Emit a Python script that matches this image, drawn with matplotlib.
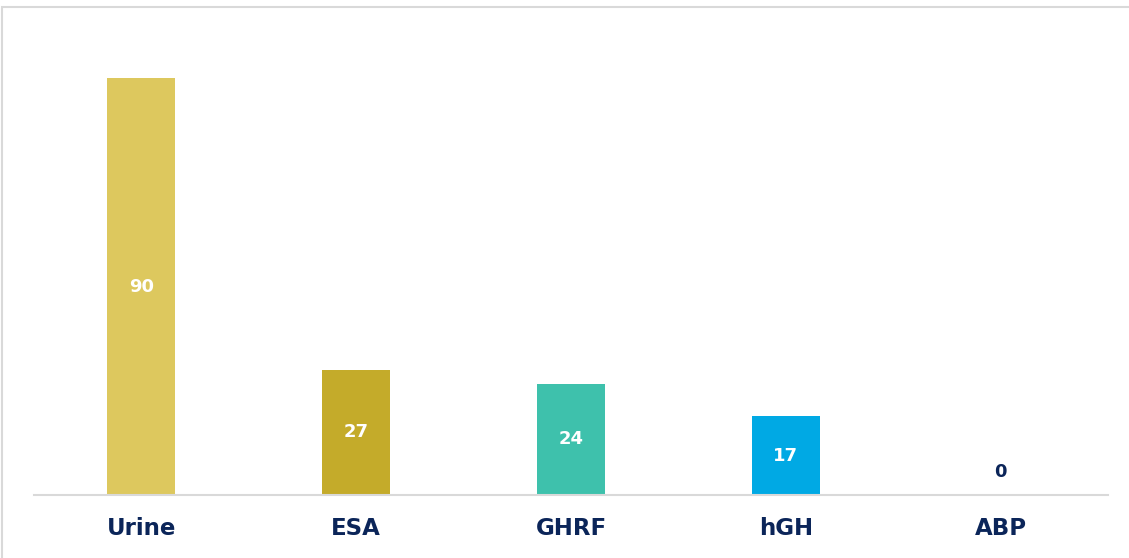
import matplotlib
matplotlib.use('Agg')
import matplotlib.pyplot as plt
from matplotlib.patches import Rectangle

# data
categories = ['Urine', 'ESA', 'GHRF', 'hGH', 'ABP']
values = [90, 27, 24, 17, 0]
bar_colors = ['#DDC85E', '#C4AB2A', '#3EC1AC', '#00A9E4', '#0B2559']
label_colors = ['white', 'white', 'white', 'white', '#0B2559']

NAVY = '#0B2559'
W, H = 1129, 558

fig = plt.figure(figsize=(W / 100, H / 100), dpi=100)
fig.patch.set_facecolor('white')

# light grey frame round the chart
fig.patches.append(Rectangle((2 / W, -0.05), 1.2, (H - 7) / H + 0.05,
                             transform=fig.transFigure, fill=False,
                             edgecolor='#D9D9D9', linewidth=1.5))

# axes: baseline at y=495 px, spans x 34..1108
ax = fig.add_axes([34 / W, (H - 495) / H, (1108 - 34) / W, 463 / H])
x = range(len(categories))
ax.bar(x, values, width=0.316, color=bar_colors)
ax.set_xlim(-0.5, len(categories) - 0.5)
ax.set_ylim(0, 100)

for i, v in enumerate(values):
    if v > 0:
        ypos = v / 2
    else:
        ypos = 5
    ax.text(i, ypos, str(v), ha='center', va='center', color=label_colors[i],
            fontsize=13, fontweight='bold', family='DejaVu Sans')

ax.set_xticks(list(x))
ax.set_xticklabels(categories, fontsize=16.5, fontweight='bold', color=NAVY,
                   family='DejaVu Sans')
ax.tick_params(axis='x', length=0, pad=16)
ax.set_yticks([])
for s in ['top', 'right', 'left']:
    ax.spines[s].set_visible(False)
ax.spines['bottom'].set_color('#D9D9D9')
ax.spines['bottom'].set_linewidth(1.5)

fig.savefig('out.png', dpi=100, facecolor='white')
